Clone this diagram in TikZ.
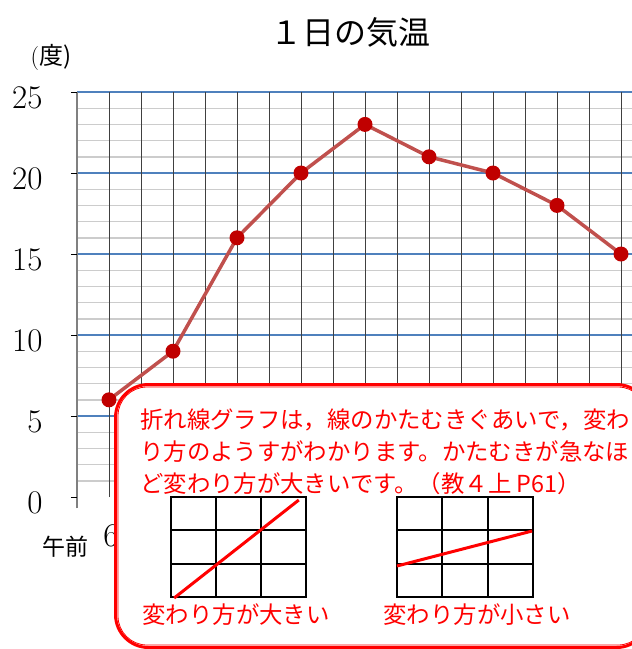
\documentclass[tikz,border=0pt]{standalone}
\usepackage{fontspec}
\newfontfamily\jp{Noto Sans CJK JP}
\usetikzlibrary{positioning}
\definecolor{seriescolor}{RGB}{192,80,77}
\definecolor{markcolor}{RGB}{192,0,0}
\definecolor{majorcolor}{RGB}{79,129,189}
\definecolor{memored}{RGB}{255,0,0}
\tikzset{
	minor/.style={draw=black!20, line width=1.4pt},
	major/.style={draw=majorcolor, line width=1.2pt},
	column/.style={draw=black!75, line width=1pt},
	ylabel/.style={anchor=base east, font=\fontsize{33}{33}\selectfont},
	series/.style={draw=seriescolor, line width=3.5pt, line join=round},
	dot/.style={circle, fill=markcolor, inner sep=0pt, minimum size=15pt},
	memo/.style={text=memored, inner sep=0pt, font=\jp\fontsize{23.4}{32}\selectfont},
	memobox/.style={draw=memored, line width=3pt, fill=white, rounded corners=33pt},
	cell/.style={draw=black, line width=2pt, line cap=rect},
	slope/.style={draw=memored, line width=3pt}
}
\begin{document}
\begin{tikzpicture}[x=1pt, y=-1pt]
		\useasboundingbox (0,0) rectangle (632,649);
		\clip (0,0) rectangle (632,649);

		\node (title)[font=\jp\fontsize{32}{32}\selectfont] at (350,32) {１日の気温};
		\node (unit)[font=\fontsize{24}{24}\selectfont] at (51,57) {(\jp 度)};

		\begin{scope}[shift={(77,497)}, x=32pt, y=16.2pt]
			\foreach \b in {0,5,...,20}
				\foreach \s in {1,...,4} \draw[minor] (0,\b+\s) -- (18,\b+\s);
			\foreach \d in {5,10,...,25} \draw[major] (0,\d) -- (18,\d);
			\foreach \c in {1,...,17} \draw[column] (\c,0) -- (\c,25);
			\draw[draw=black!50, line width=2pt] (0,-0.7) -- (0,25);
			\foreach \d in {0,5,...,25} {
				\draw[line width=1pt] (-0.19,\d) -- (0,\d);
				\node (y\d)[ylabel] at (-0.97,\d-0.99) {\d};
			}
			\foreach \t/\v [count=\i] in {6/6, 8/9, 10/16, 12/20, 14/23, 16/21, 18/20, 20/18, 22/15}
				\coordinate (p\i) at (\t-5,\v);
			\draw[series] (p1) \foreach \i in {2,...,9} {-- (p\i)};
			\foreach \i in {1,...,9} \node (m\i)[dot] at (p\i) {};
		\end{scope}

		\node (six)[anchor=base, font=\fontsize{33}{33}\selectfont] at (111,546) {6};
		\node (am)[font=\jp\fontsize{23}{23}\selectfont] at (65,547) {午前};

		\node (box)[memobox, minimum width=534pt, minimum height=263pt, anchor=north west] at (114,383) {};
		\draw[memored, line width=0.8pt, rounded corners=29pt] ([xshift=4pt,yshift=-4pt]box.north west) rectangle ([xshift=-4pt,yshift=4pt]box.south east);

		\node (note)[memo, align=left, anchor=north west] at (140,409) {折れ線グラフは，線のかたむきぐあいで，変わ\\り方のようすがわかります。かたむきが急なほ\\ど変わり方が大きいです。（教４上 P61）};

		\begin{scope}[shift={(171,597)}, x=45pt, y=33.33pt]
			\foreach \k in {0,...,3} {
				\draw[cell] (\k,0) -- (\k,3);
				\draw[cell] (0,\k) -- (3,\k);
			}
			\draw[slope] (0.07,-0.03) -- (2.84,2.91);
		\end{scope}
		\begin{scope}[shift={(397,597)}, x=45.33pt, y=33.33pt]
			\foreach \k in {0,...,3} {
				\draw[cell] (\k,0) -- (\k,3);
				\draw[cell] (0,\k) -- (3,\k);
			}
			\draw[slope] (0,0.93) -- (2.98,1.98);
		\end{scope}

		\node (steep)[memo] at (236,615) {変わり方が大きい};
		\node (gentle)[memo] at (477,615) {変わり方が小さい};
\end{tikzpicture}
\end{document}
